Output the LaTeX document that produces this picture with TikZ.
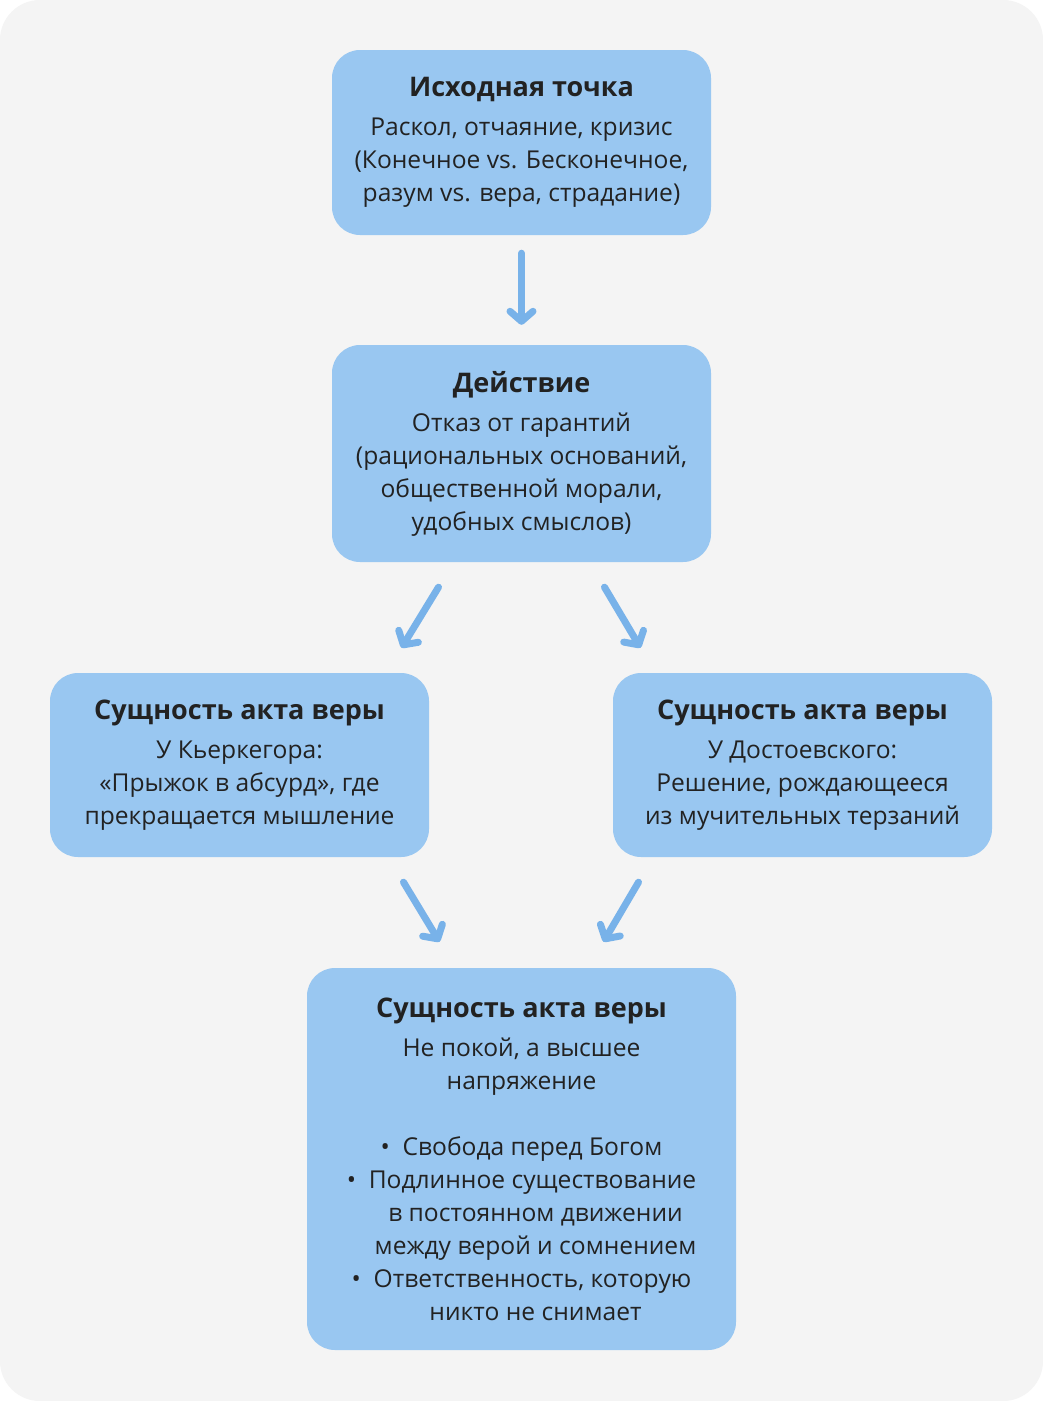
\documentclass[tikz,border=0pt]{standalone}
\usepackage{fontspec}
\setmainfont{Open Sans}
\usepackage{tikz}
\usetikzlibrary{arrows.meta, calc}

\definecolor{boxblue}{HTML}{99C7F1}
\definecolor{arrblue}{HTML}{78B2E9}
\definecolor{pagegrey}{HTML}{F4F4F4}
\definecolor{inkdark}{HTML}{222222}

\tikzset{
  stagebox/.style={fill=boxblue, rounded corners=28pt, text=inkdark, align=center,
    inner sep=0pt, font=\fontsize{24.6}{33}\selectfont},
  flowarrow/.style={arrblue, line width=7pt, line cap=round,
    -{Straight Barb[round, length=10pt, width=23pt]}},
}
\newcommand{\boxtitle}[1]{{\bfseries\fontsize{27}{33}\selectfont #1}}

\begin{document}
\begin{tikzpicture}[x=1pt, y=-1pt]
    \useasboundingbox (0, 0) rectangle (1043, 1401);
    % page background
    \fill[white] (0, 0) rectangle (1043, 1401);
    \fill[pagegrey, rounded corners=40pt] (0, 0) rectangle (1043, 1401);

    % the boxes
    \node[stagebox, minimum width=379pt, minimum height=185pt] (start) at (521.5, 142.5)
        {\boxtitle{Исходная точка}\\[6pt]
         Раскол, отчаяние, кризис\\
         (Конечное vs. Бесконечное,\\
         разум vs. вера, страдание)};

    \node[stagebox, minimum width=379pt, minimum height=217pt] (action) at (521.5, 453.5)
        {\boxtitle{Действие}\\[6pt]
         Отказ от гарантий\\
         (рациональных оснований,\\
         общественной морали,\\
         удобных смыслов)};

    \node[stagebox, minimum width=379pt, minimum height=184pt] (kierk) at (239.5, 765)
        {\boxtitle{Сущность акта веры}\\[6pt]
         У Кьеркегора:\\
         «Прыжок в абсурд», где\\
         прекращается мышление};

    \node[stagebox, minimum width=379pt, minimum height=184pt] (dost) at (802.5, 765)
        {\boxtitle{Сущность акта веры}\\[6pt]
         У Достоевского:\\
         Решение, рождающееся\\
         из мучительных терзаний};

    \node[stagebox, minimum width=429pt, minimum height=382pt] (essence) at (521.5, 1159)
        {\boxtitle{Сущность акта веры}\\[6pt]
         Не покой, а высшее\\
         напряжение\\[33pt]
         •\ \ Свобода перед Богом\\
         •\ \ Подлинное существование\\
         \hspace*{28pt}в постоянном движении\\
         \hspace*{28pt}между верой и сомнением\\
         •\ \ Ответственность, которую\\
         \hspace*{28pt}никто не снимает};

    % arrows
    \draw[flowarrow] ([yshift=-18pt]start.south) -- ([yshift=20pt]action.north);
    \draw[flowarrow] ([xshift=-83pt, yshift=-25pt]action.south) -- ([xshift=162pt, yshift=25pt]kierk.north);
    \draw[flowarrow] ([xshift=83pt, yshift=-25pt]action.south) -- ([xshift=-162pt, yshift=25pt]dost.north);
    \draw[flowarrow] ([xshift=164pt, yshift=-25pt]kierk.south) -- ([xshift=-82pt, yshift=26pt]essence.north);
    \draw[flowarrow] ([xshift=-164pt, yshift=-25pt]dost.south) -- ([xshift=82pt, yshift=26pt]essence.north);
\end{tikzpicture}
\end{document}
